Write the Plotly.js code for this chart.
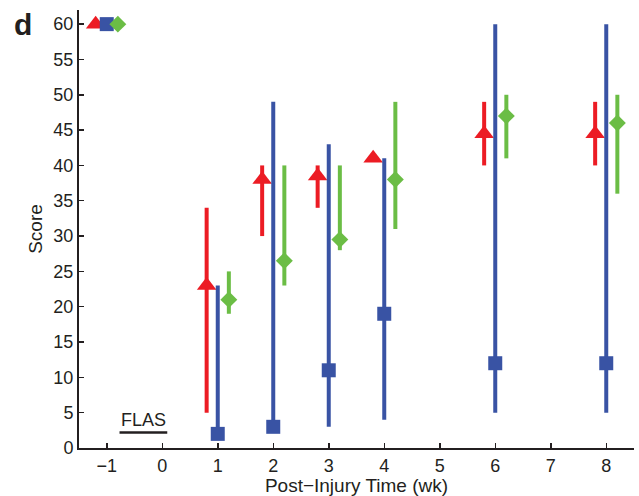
<!DOCTYPE html>
<html>
<head>
<meta charset="utf-8">
<script src="https://cdn.plot.ly/plotly-3.0.1.min.js"></script>
<style>
  html, body { margin: 0; padding: 0; background: #fff; }
  #chart { width: 639px; height: 496px; }
</style>
</head>
<body>
<div id="chart"></div>
<script>
// Post-injury weeks at which scores were measured
const weeks = [-1, 1, 2, 3, 4, 6, 8];

// Red triangles: mean score with lower / upper range
const redScore = [60, 23, 38, 38.5, 41, 44.5, 44.5];
const redLow   = [60, 5, 30, 34, 40.5, 40, 40];
const redHigh  = [60, 34, 40, 40, 41, 49, 49];

// Blue squares
const blueScore = [60, 2, 3, 11, 19, 12, 12];
const blueLow   = [60, 2, 3, 3, 4, 5, 5];
const blueHigh  = [60, 23, 49, 43, 41, 60, 60];

// Green diamonds
const greenScore = [60, 21, 26.5, 29.5, 38, 47, 46];
const greenLow   = [60, 19, 23, 28, 31, 41, 36];
const greenHigh  = [60, 25, 40, 40, 49, 50, 50];

const xTicks = [-1, 0, 1, 2, 3, 4, 5, 6, 7, 8];
const yTicks = [0, 5, 10, 15, 20, 25, 30, 35, 40, 45, 50, 55, 60];

function series(offset, score, low, high, color, symbol, size) {
  return {
    type: 'scatter',
    mode: 'markers',
    x: weeks.map(w => w + offset),
    y: score,
    marker: { color: color, symbol: symbol, size: size, line: { width: 0 } },
    error_y: {
      type: 'data',
      symmetric: false,
      array: high.map((h, i) => h - score[i]),
      arrayminus: low.map((l, i) => score[i] - l),
      color: color,
      thickness: 4,
      width: 0
    },
    cliponaxis: false,
    hoverinfo: 'x+y'
  };
}

const data = [
  series(-0.2, redScore, redLow, redHigh, '#ec1c24', 'triangle-up', 17),
  series(0, blueScore, blueLow, blueHigh, '#3953a4', 'square', 14),
  series(0.2, greenScore, greenLow, greenHigh, '#6bbd45', 'diamond', 13)
];

const textColor = '#231f20';
const font = { family: '"Liberation Sans", Arial, Helvetica, sans-serif', size: 18, color: textColor };

const layout = {
  width: 639,
  height: 496,
  margin: { l: 79, r: 5, t: 10, b: 48 },
  paper_bgcolor: '#fff',
  plot_bgcolor: '#fff',
  showlegend: false,
  font: font,
  xaxis: {
    range: [-1.5, 8.5],
    tickvals: xTicks,
    ticktext: xTicks.map(v => v < 0 ? '\u2212' + Math.abs(v) : String(v)),
    showgrid: false,
    zeroline: false,
    showline: true,
    linewidth: 2,
    linecolor: textColor,
    ticks: 'inside',
    ticklen: 5,
    tickwidth: 1.5,
    tickcolor: textColor,
    tickfont: { size: 18 },
    title: { text: 'Post\u2212Injury Time (wk)', font: { size: 19 }, standoff: 2 }
  },
  yaxis: {
    range: [0, 62],
    tickvals: yTicks,
    showgrid: false,
    zeroline: false,
    showline: true,
    linewidth: 2,
    linecolor: textColor,
    ticks: 'inside',
    ticklen: 5,
    tickwidth: 1.5,
    tickcolor: textColor,
    tickfont: { size: 18 },
    title: { text: 'Score', font: { size: 19 }, standoff: 6 }
  },
  shapes: [
    {
      type: 'line', xref: 'x', yref: 'y',
      x0: -0.77, x1: 0.09, y0: 2.2, y1: 2.2,
      line: { color: textColor, width: 2.5 }
    }
  ],
  annotations: [
    {
      text: 'FLAS', xref: 'x', yref: 'y', x: -0.33, y: 3.9,
      showarrow: false, font: { size: 18, color: textColor },
      xanchor: 'center', yanchor: 'middle'
    },
    {
      text: '<b>d</b>', xref: 'paper', yref: 'paper', x: -0.101, y: 0.966,
      xanchor: 'center', yanchor: 'middle', showarrow: false,
      font: { size: 30, color: textColor }
    }
  ]
};

Plotly.newPlot('chart', data, layout, { displayModeBar: false, staticPlot: true });
</script>
</body>
</html>
